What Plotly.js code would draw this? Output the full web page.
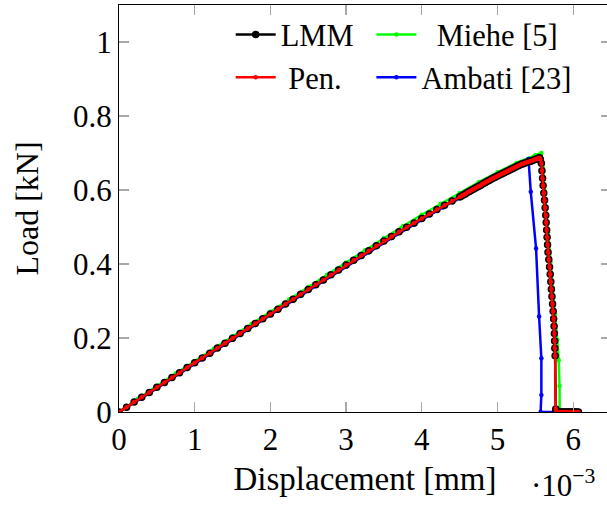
<!DOCTYPE html>
<html>
<head>
<meta charset="utf-8">
<script src="https://cdn.plot.ly/plotly-3.0.1.min.js"></script>
<style>
  html, body { margin: 0; padding: 0; overflow: hidden; background: #fff; }
</style>
</head>
<body>
<div id="chart"></div>
<script>
// Load-displacement response (displacement in 1e-3 mm, load in kN)

// LMM: elastic branch, dense steps near the peak, softening, residual
const lmmDisp = [
  0.0, 0.1, 0.2, 0.3, 0.4, 0.5, 0.6, 0.7, 0.8, 0.9,
  1.0, 1.1, 1.2, 1.3, 1.4, 1.5, 1.6, 1.7, 1.8, 1.9,
  2.0, 2.1, 2.2, 2.3, 2.4, 2.5, 2.6, 2.7, 2.8, 2.9,
  3.0, 3.1, 3.2, 3.3, 3.4, 3.5, 3.6, 3.7, 3.8, 3.9,
  4.0, 4.1, 4.2, 4.3, 4.4, 4.5,
  4.52, 4.54, 4.56, 4.58, 4.60, 4.62, 4.64, 4.66, 4.68, 4.70,
  4.72, 4.74, 4.76, 4.78, 4.80, 4.82, 4.84, 4.86, 4.88, 4.90,
  4.92, 4.94, 4.96, 4.98, 5.00, 5.02, 5.04, 5.06, 5.08, 5.10,
  5.12, 5.14, 5.16, 5.18, 5.20, 5.22, 5.24, 5.26, 5.28, 5.30,
  5.32, 5.34, 5.36, 5.38, 5.40, 5.42, 5.44, 5.46, 5.48, 5.50,
  5.52, 5.54, 5.555, 5.566,
  5.580, 5.588, 5.596, 5.603, 5.612, 5.622, 5.630, 5.638, 5.644, 5.650,
  5.656, 5.662, 5.668, 5.678, 5.688, 5.697, 5.705, 5.712, 5.720, 5.728,
  5.736, 5.742, 5.748, 5.752, 5.755, 5.758, 5.762,
  5.770, 5.775,
  5.79, 5.81, 5.83, 5.85, 5.87, 5.89, 5.91, 5.93, 5.95, 5.97,
  5.99, 6.01, 6.03, 6.05, 6.07
];
const lmmLoad = [
  0.000, 0.013, 0.027, 0.040, 0.053, 0.067, 0.080, 0.093, 0.106, 0.120,
  0.133, 0.146, 0.159, 0.173, 0.186, 0.199, 0.212, 0.226, 0.239, 0.252,
  0.265, 0.278, 0.292, 0.305, 0.318, 0.331, 0.344, 0.357, 0.371, 0.384,
  0.397, 0.410, 0.423, 0.436, 0.449, 0.462, 0.474, 0.487, 0.499, 0.511,
  0.523, 0.535, 0.547, 0.559, 0.570, 0.581,
  0.583, 0.586, 0.588, 0.590, 0.593, 0.595, 0.597, 0.600, 0.602, 0.604,
  0.607, 0.609, 0.611, 0.613, 0.616, 0.618, 0.620, 0.623, 0.625, 0.627,
  0.630, 0.632, 0.634, 0.636, 0.638, 0.640, 0.642, 0.644, 0.646, 0.648,
  0.650, 0.652, 0.654, 0.656, 0.658, 0.660, 0.662, 0.664, 0.666, 0.668,
  0.670, 0.671, 0.673, 0.674, 0.676, 0.677, 0.678, 0.680, 0.681, 0.683,
  0.684, 0.686, 0.687, 0.683,
  0.672, 0.652, 0.632, 0.612, 0.592, 0.572, 0.552, 0.532, 0.512, 0.492,
  0.472, 0.452, 0.432, 0.412, 0.392, 0.372, 0.352, 0.332, 0.312, 0.292,
  0.272, 0.252, 0.232, 0.212, 0.192, 0.172, 0.152,
  0.008, 0.000,
  0, 0, 0, 0, 0, 0, 0, 0, 0, 0,
  0, 0, 0, 0, 0
];

// Penalty formulation: coincides with the LMM results
const penDisp = lmmDisp.slice();
const penLoad = lmmLoad.slice();

// Miehe [5]
const mieheDisp = [
  0.0, 0.25, 0.5, 0.75, 1.0, 1.25, 1.5, 1.75, 2.0, 2.25,
  2.5, 2.75, 3.0, 3.25, 3.5, 3.75, 4.0, 4.25, 4.5, 4.75,
  5.0, 5.25, 5.5, 5.58,
  5.60, 5.62, 5.64, 5.67, 5.70, 5.73, 5.76, 5.79, 5.81, 5.82, 5.822
];
const mieheLoad = [
  0.000, 0.036, 0.070, 0.104, 0.138, 0.171, 0.204, 0.238, 0.271, 0.305,
  0.338, 0.371, 0.404, 0.437, 0.470, 0.502, 0.533, 0.563, 0.592, 0.621,
  0.648, 0.673, 0.694, 0.700,
  0.660, 0.600, 0.555, 0.485, 0.405, 0.335, 0.265, 0.195, 0.140, 0.070, 0.000
];

// Ambati [23]
const ambatiDisp = [
  0.0, 0.3, 0.6, 0.9, 1.2, 1.5, 1.8, 2.1, 2.4, 2.7,
  3.0, 3.3, 3.6, 3.9, 4.28, 4.45, 4.77, 5.19, 5.41,
  5.44, 5.51, 5.55, 5.58, 5.58, 5.57, 5.78, 5.98, 6.0
];
const ambatiLoad = [
  0.000, 0.037, 0.077, 0.116, 0.156, 0.195, 0.235, 0.275, 0.314, 0.354,
  0.393, 0.432, 0.470, 0.507, 0.553, 0.574, 0.610, 0.659, 0.684,
  0.595, 0.442, 0.258, 0.145, 0.046, 0.000, 0.000, 0.000, 0.000
];

const xTicks = [0, 1, 2, 3, 4, 5, 6];
const yTicks = [0, 0.2, 0.4, 0.6, 0.8, 1];
const yTickText = ['0', '0.2', '0.4', '0.6', '0.8', '1'];

const serif = 'Liberation Serif, Times New Roman, serif';
const NB = '\u00a0';

const traces = [
  {
    name: NB + NB + 'Miehe [5]', legend: 'legend2',
    x: mieheDisp, y: mieheLoad, mode: 'lines+markers',
    line: { color: '#00ff00', width: 2.5 },
    marker: { color: '#00ff00', size: 4.5 }
  },
  {
    name: 'Ambati [23]', legend: 'legend2',
    x: ambatiDisp, y: ambatiLoad, mode: 'lines+markers',
    line: { color: '#0000ff', width: 2.5 },
    marker: { color: '#0000ff', size: 4.5 }
  },
  {
    name: 'LMM', legend: 'legend',
    x: lmmDisp, y: lmmLoad, mode: 'lines+markers',
    line: { color: '#000000', width: 2.5 },
    marker: { color: '#000000', size: 7.5 }
  },
  {
    name: NB + 'Pen.', legend: 'legend',
    x: penDisp, y: penLoad, mode: 'lines+markers',
    line: { color: '#ff0000', width: 2.5 },
    marker: { color: '#ff0000', size: 4.5 }
  }
];

const axisCommon = {
  showline: true, linecolor: '#000', linewidth: 1,
  mirror: 'ticks', ticks: 'inside', ticklen: 10, tickwidth: 1.2,
  tickcolor: '#a8a8a8', showgrid: false, zeroline: false,
  tickfont: { family: serif, size: 31, color: '#000' }
};

const legendCommon = {
  orientation: 'v', bgcolor: 'rgba(255,255,255,0)', borderwidth: 0,
  font: { family: serif, size: 30.5, color: '#000' },
  itemwidth: 40, tracegroupgap: 0,
  xanchor: 'left', yanchor: 'top'
};

const layout = {
  width: 612, height: 506,
  margin: { l: 119, r: 1, t: 5, b: 94 },
  paper_bgcolor: '#fff', plot_bgcolor: '#fff',
  font: { family: serif, color: '#000' },
  xaxis: Object.assign({}, axisCommon, {
    range: [0, 6.5], tickvals: xTicks,
    title: { text: 'Displacement [mm]', font: { family: serif, size: 33, color: '#000' }, standoff: 10 }
  }),
  yaxis: Object.assign({}, axisCommon, {
    range: [0, 1.1], tickvals: yTicks, ticktext: yTickText,
    title: { text: 'Load [kN]', font: { family: serif, size: 32, color: '#000' }, standoff: 24 }
  }),
  legend: Object.assign({}, legendCommon, { x: 0.227, y: 0.992 }),
  legend2: Object.assign({}, legendCommon, { x: 0.513, y: 0.992 }),
  annotations: [{
    xref: 'paper', yref: 'paper', x: 0.972, y: -0.175,
    xanchor: 'right', yanchor: 'middle', showarrow: false,
    text: '\u00b710<sup>\u22123</sup>',
    font: { family: serif, size: 31, color: '#000' }
  }]
};

Plotly.newPlot('chart', traces, layout, { displayModeBar: false, staticPlot: true });
</script>
</body>
</html>
